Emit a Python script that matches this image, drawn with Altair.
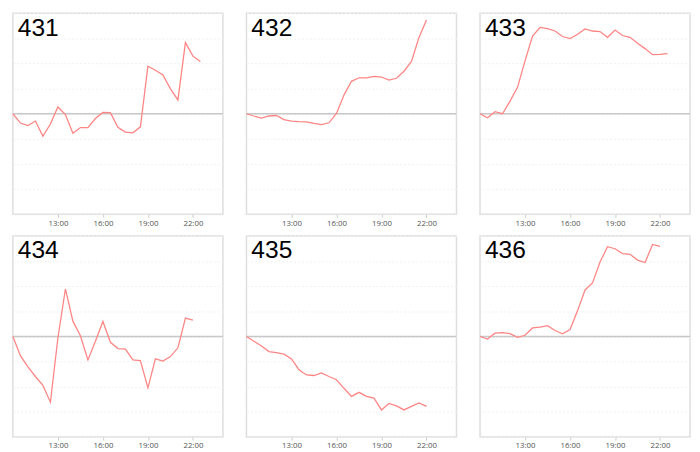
import altair as alt
import pandas as pd

times = ["10:00", "10:30", "11:00", "11:30", "12:00", "12:30", "13:00", "13:30",
         "14:00", "14:30", "15:00", "15:30", "16:00", "16:30", "17:00", "17:30",
         "18:00", "18:30", "19:00", "19:30", "20:00", "20:30", "21:00", "21:30",
         "22:00", "22:30"]

panel_ids = ["431", "432", "433", "434", "435", "436"]

s431 = [0, -0.37, -0.47, -0.29, -0.89, -0.41, 0.27, -0.03, -0.78, -0.55, -0.55, -0.19, 0.05,
        0.04, -0.54, -0.73, -0.76, -0.52, 1.89, 1.73, 1.54, 0.99, 0.55, 2.83, 2.29, 2.08]
s432 = [0, -0.09, -0.17, -0.09, -0.07, -0.23, -0.29, -0.31, -0.32, -0.38, -0.43, -0.36, 0.01,
        0.74, 1.29, 1.43, 1.43, 1.49, 1.46, 1.34, 1.41, 1.69, 2.08, 3.03, 3.73]
s433 = [0, -0.16, 0.08, 0.0, 0.5, 1.05, 2.1, 3.09, 3.43, 3.38, 3.29, 3.07, 2.99, 3.16, 3.37,
        3.29, 3.27, 3.04, 3.33, 3.11, 3.04, 2.80, 2.59, 2.35, 2.36, 2.39]
s434 = [0, -0.76, -1.21, -1.59, -1.94, -2.61, -0.06, 1.89, 0.61, 0.03, -0.93, -0.19, 0.60,
        -0.23, -0.48, -0.50, -0.93, -0.96, -2.04, -0.89, -0.98, -0.80, -0.45, 0.73, 0.65]
s435 = [0, -0.19, -0.38, -0.60, -0.64, -0.70, -0.89, -1.32, -1.53, -1.55, -1.45, -1.59, -1.72,
        -2.06, -2.38, -2.22, -2.38, -2.45, -2.92, -2.66, -2.76, -2.92, -2.78, -2.64, -2.78]
s436 = [0, -0.10, 0.13, 0.15, 0.11, -0.03, 0.05, 0.34, 0.37, 0.43, 0.24, 0.11, 0.28, 1.02,
        1.85, 2.13, 2.96, 3.57, 3.49, 3.30, 3.27, 3.04, 2.94, 3.66, 3.58]

series = [s431, s432, s433, s434, s435, s436]
tick_hours = [13, 16, 19, 22]
y_grid = [-4, -3, -2, -1, 0, 1, 2, 3, 4]

LINE = "#ff8585"


def make_panel(pid, vals):
    df = pd.DataFrame({
        "t": pd.to_datetime(["2024-01-01 " + t for t in times[:len(vals)]]),
        "v": vals,
    })
    x = alt.X(
        "t:T",
        scale=alt.Scale(domain=[alt.DateTime(year=2024, month=1, date=1, hours=10),
                                alt.DateTime(year=2024, month=1, date=2, hours=0)]),
        axis=alt.Axis(values=[alt.DateTime(year=2024, month=1, date=1, hours=h) for h in tick_hours],
                      format="%H:%M", title=None, grid=False, domain=False,
                      ticks=True, tickSize=3, tickColor="#cccccc",
                      labelFontSize=8, labelColor="#555555", labelFont="Open Sans",
                      labelPadding=2),
    )
    y = alt.Y(
        "v:Q",
        scale=alt.Scale(domain=[-4, 4], nice=False, zero=False),
        axis=alt.Axis(values=y_grid, labels=False, ticks=False, domain=False, title=None,
                      grid=True, gridColor="#f0f0f0", gridDash=[2, 2], gridWidth=1),
    )
    zero = alt.Chart(pd.DataFrame({"v": [0]})).mark_rule(
        color="#c8c8c8", strokeWidth=1.6).encode(y=y)
    line = alt.Chart(df).mark_line(color=LINE, strokeWidth=1.3).encode(x=x, y=y)
    label = alt.Chart(pd.DataFrame({"id": [pid]})).mark_text(
        align="left", baseline="alphabetic", fontSize=25, font="Liberation Sans",
        color="#000000").encode(x=alt.value(5), y=alt.value(23), text="id:N")
    return alt.layer(zero, line, label).properties(width=214, height=205)


panels = [make_panel(p, s) for p, s in zip(panel_ids, series)]

chart = alt.vconcat(
    alt.hconcat(*panels[:3], spacing=18),
    alt.hconcat(*panels[3:], spacing=18),
    spacing=7,
).properties(
    padding={"left": 1, "top": 0, "right": 0, "bottom": 0}
).configure_view(
    stroke="#dedede", strokeWidth=1.5
).configure_concat(spacing=18)

chart.save("out.html", embed_options={"renderer": "svg", "actions": False})
